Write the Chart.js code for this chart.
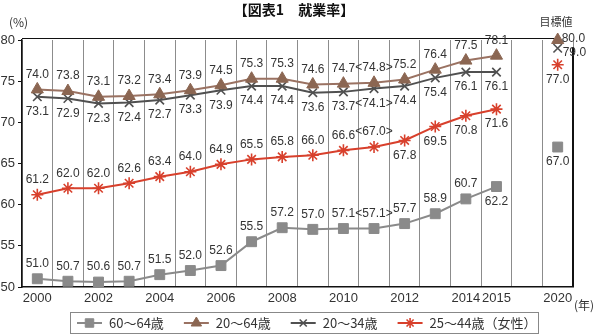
<!DOCTYPE html>
<html><head><meta charset="utf-8">
<script src="https://cdn.jsdelivr.net/npm/chart.js@4/dist/chart.umd.min.js"></script>
<style>html,body{margin:0;padding:0;background:#fff}canvas{display:block}</style>
</head><body>
<canvas id="c" width="595" height="334"></canvas>
<script>
// ---- data ----
const years = ['2000','2001','2002','2003','2004','2005','2006','2007','2008','2009','2010','2011','2012','2013','2014','2015','','2020'];
const shownYears = ['2000','2002','2004','2006','2008','2010','2012','2014','2015','2020'];
const yTicks = [50,55,60,65,70,75,80];
const seriesNames = ['60～64歳','20～64歳','20～34歳','25～44歳（女性）'];
const age60to64 = [51.0,50.7,50.6,50.7,51.5,52.0,52.6,55.5,57.2,57.0,57.1,57.1,57.7,58.9,60.7,62.2,null,67.0];
const age20to64 = [74.0,73.8,73.1,73.2,73.4,73.9,74.5,75.3,75.3,74.6,74.7,74.8,75.2,76.4,77.5,78.1,null,80.0];
const age20to34 = [73.1,72.9,72.3,72.4,72.7,73.3,73.9,74.4,74.4,73.6,73.7,74.1,74.4,75.4,76.1,76.1,null,79.0];
const female25to44 = [61.2,62.0,62.0,62.6,63.4,64.0,64.9,65.5,65.8,66.0,66.6,67.0,67.8,69.5,70.8,71.6,null,77.0];
const estimatedYear = '2011';   // values shown in brackets
// label placement: a = above, b = below, R = right (level), r = right (down)
const place60to64 = ['a','a','a','a','a','a','a','a','a','a','a','a','a','a','a','b',null,'b'];
const place20to64 = ['a','a','a','a','a','a','a','a','a','a','a','a','a','a','a','a',null,'R'];
const place20to34 = ['b','b','b','b','b','b','b','b','b','b','b','b','b','b','b','b',null,'r'];
const placeFemale = ['a','a','a','a','a','a','a','a','a','a','a','a','b','b','b','b',null,'b'];

const NUM_FONT = '"Liberation Sans", Arial, sans-serif';
const JP_FONT = '"Noto Sans CJK JP", sans-serif';

const styles = [
  {color:'#8a8a8a', fill:'#8a8a8a', pointStyle:'rect', radius:7, lineW:2, pbw:1},
  {color:'#9a7262', fill:'#8b6652', pointStyle:'triangle', radius:7, lineW:2, pbw:1},
  {color:'#505050', fill:'#505050', pointStyle:'crossRot', radius:6, lineW:2, pbw:1.6},
  {color:'#d8402c', fill:'#d8402c', pointStyle:'star', radius:6, lineW:2, pbw:1.6}
];
const seriesData = [age60to64, age20to64, age20to34, female25to44];
const placements = [place60to64, place20to64, place20to34, placeFemale];

const datasets = seriesData.map((d,i)=>({
  label: seriesNames[i],
  data: d,
  borderColor: styles[i].color,
  backgroundColor: styles[i].fill,
  pointBackgroundColor: styles[i].fill,
  pointBorderColor: styles[i].fill,
  pointStyle: styles[i].pointStyle,
  pointRadius: styles[i].radius,
  pointBorderWidth: styles[i].pbw,
  borderWidth: styles[i].lineW,
  spanGaps: false,
  tension: 0,
  clip: false,
  order: [4,2,3,1][i]
}));

const labelPlugin = {
  id: 'labels',
  afterDatasetsDraw(chart) {
    const ctx = chart.ctx;
    ctx.save();
    ctx.font = '12px ' + NUM_FONT;
    ctx.fillStyle = '#333';
    ctx.textBaseline = 'middle';
    seriesData.forEach((d, si) => {
      const meta = chart.getDatasetMeta(si);
      d.forEach((v, i) => {
        if (v === null) return;
        const pt = meta.data[i];
        let txt = v.toFixed(1);
        if (years[i] === estimatedYear) txt = '<' + txt + '>';
        const p = placements[si][i];
        let x = pt.x, y = pt.y;
        if (p === 'a') { ctx.textAlign = 'center'; y -= 15; }
        else if (p === 'b') { ctx.textAlign = 'center'; y += 15; }
        else if (p === 'R') { ctx.textAlign = 'left'; x += 4; y -= 1; }
        else if (p === 'r') { ctx.textAlign = 'left'; x += 5; y += 4; }
        ctx.fillText(txt, x, y);
      });
    });
    ctx.restore();
  }
};

const framePlugin = {
  id: 'frame',
  beforeDatasetsDraw(chart) {
    const {ctx, chartArea:a} = chart;
    ctx.save();
    ctx.strokeStyle = '#111';
    ctx.lineWidth = 1.2;
    ctx.beginPath(); ctx.moveTo(a.left, a.top - 1.5); ctx.lineTo(a.right - 18, a.top - 1.5); ctx.stroke();
    ctx.lineWidth = 2;
    ctx.beginPath(); ctx.moveTo(a.right, a.top + 7); ctx.lineTo(a.right, a.bottom); ctx.stroke();
    ctx.restore();
  },
  afterDraw(chart) {
    const {ctx, chartArea:a} = chart;
    ctx.save();
    // title
    ctx.fillStyle = '#111';
    ctx.font = 'bold 14px ' + JP_FONT;
    ctx.textAlign = 'center'; ctx.textBaseline = 'middle';
    ctx.fillText('【図表1　就業率】', 294, 10);
    // unit labels
    ctx.font = '12px ' + JP_FONT;
    ctx.fillStyle = '#333';
    ctx.textAlign = 'left';
    ctx.fillText('(%)', 9, 22);
    ctx.fillText('(年)', 574, 305);
    ctx.textAlign = 'center';
    ctx.font = '11px ' + JP_FONT;
    ctx.fillText('目標値', 556, 22);
    // legend
    ctx.strokeStyle = '#888'; ctx.lineWidth = 1;
    ctx.strokeRect(70.5, 312.5, 468, 21);
    const ly = 323;
    let x = 77;
    ctx.font = '13px ' + JP_FONT;
    ctx.textAlign = 'left'; ctx.textBaseline = 'middle';
    seriesNames.forEach((name, i) => {
      const s = styles[i];
      ctx.strokeStyle = s.color; ctx.lineWidth = s.lineW;
      ctx.beginPath(); ctx.moveTo(x, ly); ctx.lineTo(x + 25, ly); ctx.stroke();
      ctx.fillStyle = s.fill; ctx.strokeStyle = s.fill; ctx.lineWidth = s.pbw;
      Chart.helpers.drawPoint(ctx, {pointStyle: s.pointStyle, radius: s.radius - 1, borderWidth: s.pbw, rotation: 0}, x + 12.5, ly);
      ctx.fillStyle = '#333';
      ctx.fillText(name, x + 32, ly);
      x = x + 32 + ctx.measureText(name).width + 20;
    });
    ctx.restore();
  }
};

new Chart(document.getElementById('c'), {
  type: 'line',
  data: { labels: years, datasets },
  plugins: [labelPlugin, framePlugin],
  options: {
    responsive: false,
    animation: false,
    devicePixelRatio: 1,
    layout: { padding: { top: 40, right: 22, left: 0, bottom: 0 } },
    plugins: { legend: { display: false }, title: { display: false }, tooltip: { enabled: false } },
    scales: {
      x: {
        type: 'category',
        offset: true,
        afterFit(s) { s.height = 47; },
        grid: { offset: true, color: '#8c8c8c', lineWidth: 1, drawTicks: false, drawOnChartArea: true },
        border: { color: '#111', width: 1.5 },
        ticks: {
          autoSkip: false, maxRotation: 0, padding: 4,
          color: '#333', font: { family: NUM_FONT, size: 13 },
          callback(v) { const l = years[v]; return shownYears.includes(l) ? l : ''; }
        }
      },
      y: {
        min: 50, max: 80,
        afterFit(s) { s.width = 22; },
        afterBuildTicks(s) { s.ticks = yTicks.map(v => ({value: v})); },
        grid: { drawOnChartArea: false, drawTicks: true, tickLength: 4, color: '#111' },
        border: { color: '#111', width: 1.5 },
        ticks: { padding: 3, color: '#333', font: { family: NUM_FONT, size: 13 } }
      }
    }
  }
});
</script>
</body></html>
